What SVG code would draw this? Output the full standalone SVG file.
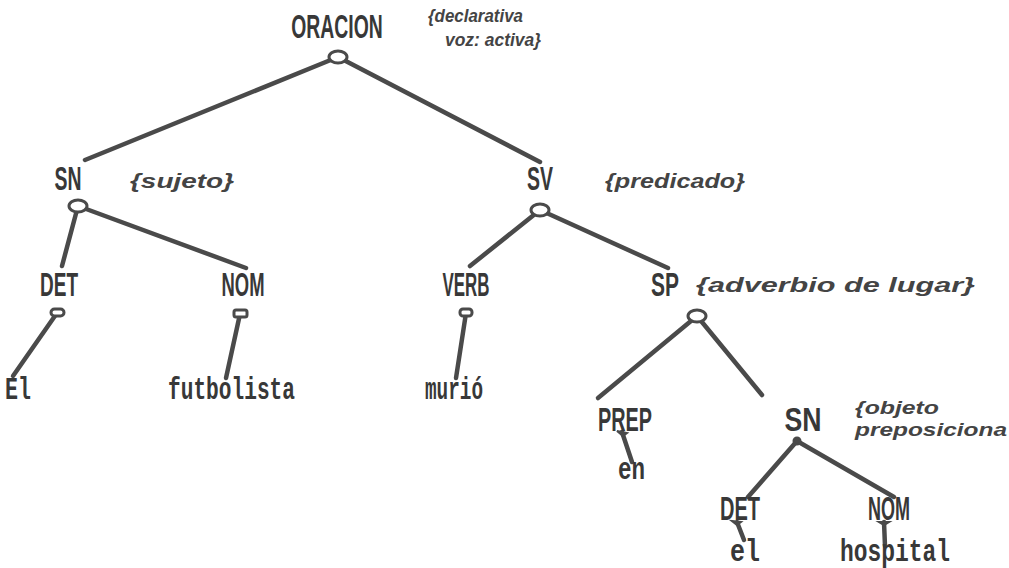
<svg xmlns="http://www.w3.org/2000/svg" width="1009" height="568" viewBox="0 0 1009 568">
<style>
.cat{font-family:"Liberation Sans",Arial,sans-serif;font-weight:bold;font-size:34px;fill:#383838;text-anchor:middle}
.word{font-family:"Liberation Mono","Courier New",monospace;font-weight:bold;font-size:31px;fill:#383838}
.ann{font-family:"Liberation Sans",Arial,sans-serif;font-weight:bold;font-style:italic;font-size:21px;fill:#444}
.ann2{font-family:"Liberation Sans",Arial,sans-serif;font-weight:bold;font-style:italic;font-size:18px;fill:#444}
.edge{stroke:#4a4a4a;stroke-width:4.5;stroke-linecap:round;fill:none}
.knot{fill:#fff;stroke:#4a4a4a;stroke-width:3}
.knotf{fill:#4a4a4a;stroke:#4a4a4a;stroke-width:2}
</style>
<rect width="1009" height="568" fill="#fff"/>
<g id="connectors">
<line class="edge" x1="338" y1="57" x2="85" y2="160"/>
<line class="edge" x1="338" y1="57" x2="540" y2="162"/>
<line class="edge" x1="78" y1="206" x2="62" y2="266"/>
<line class="edge" x1="78" y1="206" x2="246" y2="268"/>
<line class="edge" x1="540" y1="210" x2="470" y2="266"/>
<line class="edge" x1="540" y1="210" x2="668" y2="268"/>
<line class="edge" x1="57" y1="313" x2="13" y2="376"/>
<line class="edge" x1="240" y1="314" x2="226" y2="378"/>
<line class="edge" x1="466" y1="313" x2="456" y2="378"/>
<line class="edge" x1="697" y1="316" x2="598" y2="398"/>
<line class="edge" x1="697" y1="316" x2="762" y2="395"/>
<line class="edge" x1="622" y1="432" x2="632" y2="462"/>
<line class="edge" x1="797" y1="441" x2="748" y2="497"/>
<line class="edge" x1="797" y1="441" x2="894" y2="497"/>
<line class="edge" x1="737" y1="522" x2="744" y2="540"/>
<line class="edge" x1="884" y1="522" x2="885" y2="546"/>
</g>
<g id="n-oracion">
<text class="cat" transform="translate(337 38) scale(0.57 1)" x="0" y="0" font-size="32">ORACION</text>
<ellipse class="knot" cx="338" cy="57" rx="9" ry="6"/>
<text class="ann2" x="428" y="22" textLength="95" lengthAdjust="spacingAndGlyphs">{declarativa</text>
<text class="ann2" x="445" y="46" textLength="96" lengthAdjust="spacingAndGlyphs">voz: activa}</text>
</g>
<g id="n-sn">
<text class="cat" x="68" y="190" textLength="27" lengthAdjust="spacingAndGlyphs">SN</text>
<ellipse class="knot" cx="78" cy="206" rx="9" ry="6"/>
<text class="ann" x="130" y="188" textLength="104" lengthAdjust="spacingAndGlyphs">{sujeto}</text>
</g>
<g id="n-sv">
<text class="cat" x="540" y="190" textLength="26" lengthAdjust="spacingAndGlyphs">SV</text>
<ellipse class="knot" cx="540" cy="210" rx="9" ry="6"/>
<text class="ann" x="605" y="188" textLength="140" lengthAdjust="spacingAndGlyphs">{predicado}</text>
</g>
<g id="n-det1">
<text class="cat" x="59" y="296" textLength="38" lengthAdjust="spacingAndGlyphs">DET</text>
<rect class="knot" x="51" y="309" width="13" height="7" rx="3.5"/>
</g>
<g id="n-nom1">
<text class="cat" x="243" y="296" textLength="43" lengthAdjust="spacingAndGlyphs">NOM</text>
<rect class="knot" x="234" y="310" width="13" height="7" rx="2"/>
</g>
<g id="n-verb">
<text class="cat" x="466" y="296" textLength="47" lengthAdjust="spacingAndGlyphs">VERB</text>
<rect class="knot" x="460" y="309" width="12" height="7" rx="3"/>
</g>
<g id="n-sp">
<text class="cat" x="665" y="296" textLength="28" lengthAdjust="spacingAndGlyphs">SP</text>
<ellipse class="knot" cx="697" cy="316" rx="9" ry="6"/>
<text class="ann" x="696" y="292" textLength="279" lengthAdjust="spacingAndGlyphs">{adverbio de lugar}</text>
</g>
<g id="n-el1"><text class="word" x="5" y="399" textLength="26" lengthAdjust="spacingAndGlyphs">El</text></g>
<g id="n-futbolista"><text class="word" x="168" y="399" textLength="127" lengthAdjust="spacingAndGlyphs">futbolista</text></g>
<g id="n-murio"><text class="word" x="425" y="399" textLength="58" lengthAdjust="spacingAndGlyphs">murió</text></g>
<g id="n-prep">
<text class="cat" x="625" y="431" textLength="54" lengthAdjust="spacingAndGlyphs">PREP</text>
<path class="knotf" d="M617 431 L627 433 L623 436 Z"/>
</g>
<g id="n-en"><text class="word" x="618" y="479" textLength="27" lengthAdjust="spacingAndGlyphs">en</text></g>
<g id="n-sn2">
<text class="cat" x="803" y="431" textLength="37" lengthAdjust="spacingAndGlyphs">SN</text>
<circle class="knotf" cx="797" cy="441" r="3.5"/>
<text class="ann2" x="855" y="414" textLength="84" lengthAdjust="spacingAndGlyphs">{objeto</text>
<text class="ann2" x="855" y="436" textLength="152" lengthAdjust="spacingAndGlyphs">preposiciona</text>
</g>
<g id="n-det2">
<text class="cat" x="740" y="520" textLength="40" lengthAdjust="spacingAndGlyphs">DET</text>
<path class="knotf" d="M732 521 L741 522 L737 525 Z"/>
</g>
<g id="n-nom2">
<text class="cat" x="889" y="520" textLength="42" lengthAdjust="spacingAndGlyphs">NOM</text>
<path class="knotf" d="M879 522 L889 522 L884 525 Z"/>
</g>
<g id="n-el2"><text class="word" x="730" y="561" textLength="30" lengthAdjust="spacingAndGlyphs">el</text></g>
<g id="n-hospital"><text class="word" x="840" y="561" textLength="110" lengthAdjust="spacingAndGlyphs">hospital</text></g>
</svg>
